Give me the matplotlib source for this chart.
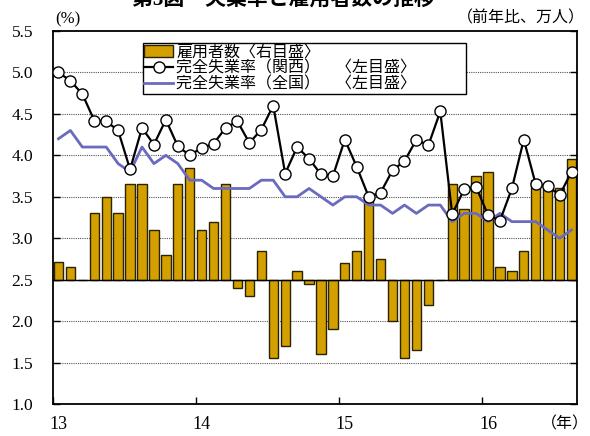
import matplotlib
matplotlib.use("Agg")
import matplotlib.pyplot as plt
import numpy as np

plt.rcParams['font.family'] = ['Liberation Serif', 'Noto Sans CJK JP']

# 2013/1 - 2016/8, monthly
year_labels = ["13", "14", "15", "16"]

# 完全失業率（関西）
kansai = [5.0, 4.9, 4.74, 4.42, 4.41, 4.30, 3.83, 4.33, 4.13, 4.43, 4.11, 4.0,
          4.09, 4.14, 4.33, 4.41, 4.15, 4.31, 4.6, 3.78, 4.1, 3.96, 3.77, 3.75,
          4.19, 3.86, 3.5, 3.55, 3.82, 3.93, 4.19, 4.12, 4.53, 3.29, 3.59, 3.62,
          3.28, 3.21, 3.6, 4.19, 3.65, 3.63, 3.52, 3.8]

# 完全失業率（全国）
national = [4.2, 4.3, 4.1, 4.1, 4.1, 3.9, 3.8, 4.1, 3.9, 4.0, 3.9, 3.7,
            3.7, 3.6, 3.6, 3.6, 3.6, 3.7, 3.7, 3.5, 3.5, 3.6, 3.5, 3.4,
            3.5, 3.5, 3.4, 3.4, 3.3, 3.4, 3.3, 3.4, 3.4, 3.2, 3.3, 3.3,
            3.2, 3.3, 3.2, 3.2, 3.2, 3.1, 3.0, 3.1]

# 雇用者数 (bar tops read on the left scale, base = 2.5)
employees = [2.71, 2.65, 2.5, 3.30, 3.50, 3.30, 3.65, 3.65, 3.10, 2.80, 3.65, 3.85,
             3.10, 3.20, 3.65, 2.40, 2.30, 2.85, 1.55, 1.70, 2.60, 2.45, 1.60, 1.90,
             2.70, 2.85, 3.50, 2.75, 2.00, 1.55, 1.65, 2.20, 2.5, 3.65, 3.35, 3.75,
             3.80, 2.65, 2.60, 2.85, 3.70, 3.65, 3.60, 3.95]
base = 2.5

x = np.arange(len(kansai)) + 0.5
emp = np.array(employees) - base

fig = plt.figure(figsize=(5.9, 4.36), dpi=100)
ax = fig.add_axes([0.089, 0.0734, 0.8898, 0.8555])

bars = ax.bar(x, emp, bottom=base, width=0.78, color='#d4a000', edgecolor='#2b2200',
              linewidth=1.0, zorder=2)
ax.axhline(base, color='black', lw=1.0, zorder=3)
l1, = ax.plot(x, kansai, color='black', lw=1.6, marker='o', markersize=8,
              markerfacecolor='white', markeredgecolor='black', markeredgewidth=1.0,
              zorder=5)
l2, = ax.plot(x, national, color='#6a6abf', lw=2.0, zorder=4)

ax.set_xlim(0, 44)
ax.set_ylim(1.0, 5.5)
ax.set_yticks(np.arange(1.0, 5.51, 0.5))
ax.set_yticklabels([f"{v:.1f}" for v in np.arange(1.0, 5.51, 0.5)], fontsize=12.5)
for v in [1.5, 2.0, 3.0, 3.5, 4.0, 4.5, 5.0]:
    ax.axhline(v, color='#555555', lw=0.8, ls=(0, (1, 1)), zorder=1)

ax.set_xticks([0, 12, 24, 36])
ax.set_xticklabels([])
ax.set_xticks([0.5, 12.5, 24.5, 36.5], minor=True)
ax.set_xticklabels(year_labels, minor=True, fontsize=13)
ax.tick_params(axis='x', which='major', direction='in', length=5, width=1)
ax.tick_params(axis='x', which='minor', length=0, pad=9)
ax.tick_params(axis='y', direction='in', length=5, width=1, pad=14,
               right=True)
for s in ax.spines.values():
    s.set_linewidth(1.3)

leg = ax.legend([bars, l1, l2],
                ['雇用者数〈右目盛〉',
                 '完全失業率（関西）　〈左目盛〉　　　',
                 '完全失業率（全国）　〈左目盛〉　　　'],
                loc='upper left', bbox_to_anchor=(0.172, 0.968), fontsize=11.5,
                frameon=True, fancybox=False, edgecolor='black', framealpha=1,
                borderpad=0.1, labelspacing=0.0, handlelength=1.8,
                handletextpad=0.2, borderaxespad=0)
leg.get_frame().set_linewidth(1.0)
leg.set_zorder(10)

fig.text(0.093, 0.975, "(%)", fontsize=12, ha='left', va='top')
fig.text(0.992, 0.975, "（前年比、万人）", fontsize=11.5, ha='right', va='top')
fig.text(0.998, 0.008, "（年）", fontsize=11.5, ha='right', va='bottom')
fig.text(0.48, 1 - 10 / 436, "第3図　失業率と雇用者数の推移", fontsize=15,
         fontweight='bold', ha='center', va='bottom')

fig.savefig("out.png", dpi=100)
